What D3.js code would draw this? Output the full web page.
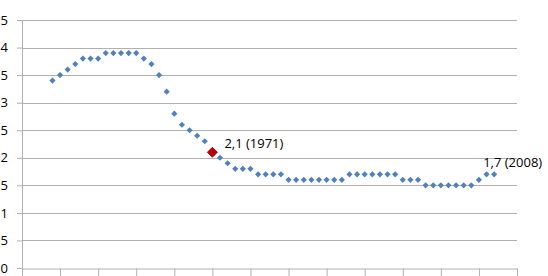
<!DOCTYPE html>
<html>
<head>
<meta charset="utf-8">
<script src="https://cdn.jsdelivr.net/npm/d3@7"></script>
<style>
  body { margin: 0; background: #fff; }
  svg { display: block; }
</style>
</head>
<body>
<div id="chart"></div>
<script>
// total fertility rate, one value per year
const years = d3.range(1950, 2009);
const values = [
  3.4, 3.5, 3.6, 3.7, 3.8, 3.8, 3.8, 3.9, 3.9, 3.9, 3.9, 3.9,
  3.8, 3.7, 3.5, 3.2, 2.8, 2.6, 2.5, 2.4, 2.3, 2.1,
  2.0, 1.9, 1.8, 1.8, 1.8, 1.7, 1.7, 1.7, 1.7,
  1.6, 1.6, 1.6, 1.6, 1.6, 1.6, 1.6, 1.6,
  1.7, 1.7, 1.7, 1.7, 1.7, 1.7, 1.7,
  1.6, 1.6, 1.6,
  1.5, 1.5, 1.5, 1.5, 1.5, 1.5, 1.5,
  1.6,
  1.7, 1.7
];
const yTicks = [0, 0.5, 1, 1.5, 2, 2.5, 3, 3.5, 4, 4.5];
const xTicks = d3.range(1946, 2012, 5);
const highlights = [
  { year: 1971, label: "2,1 (1971)", dx: 12, dy: -4 },
  { year: 2008, label: "1,7 (2008)", dx: -11, dy: -7 }
];

const width = 548, height = 276;
const margin = { top: 20, right: 31, bottom: 8, left: 22 };

const svg = d3.select("#chart").append("svg")
  .attr("width", width)
  .attr("height", height);

const x = d3.scaleLinear()
  .domain([1946, 2011])
  .range([margin.left, width - margin.right]);
const y = d3.scaleLinear()
  .domain([0, 4.5])
  .range([height - margin.bottom, margin.top]);

const fmt = d => String(d).replace(".", ",");
const grid = "#b0b0b0";

// y axis: the chart was cropped at the left, so only the last digit of each label shows
svg.append("g")
  .attr("transform", "translate(" + margin.left + ",0)")
  .call(d3.axisLeft(y).tickValues(yTicks).tickFormat(fmt)
    .tickSize(5).tickSizeOuter(0))
  .call(g => g.select(".domain").attr("stroke", grid))
  .call(g => g.selectAll(".tick line").attr("stroke", grid))
  .call(g => g.selectAll(".tick text")
    .attr("fill", "#000")
    .attr("font-family", "Open Sans, sans-serif")
    .attr("font-size", 13)
    .attr("x", -14));

svg.append("g")
  .selectAll("line")
  .data(yTicks.filter(d => d > 0))
  .join("line")
  .attr("x1", margin.left)
  .attr("x2", width - margin.right)
  .attr("y1", d => Math.round(y(d)) + 0.5)
  .attr("y2", d => Math.round(y(d)) + 0.5)
  .attr("stroke", grid);

// bottom axis with tick marks, no labels
svg.append("g")
  .attr("transform", "translate(0," + (Math.round(y(0)) + 0.5) + ")")
  .call(d3.axisBottom(x).tickValues(xTicks).tickFormat("")
    .tickSize(8).tickSizeOuter(0))
  .call(g => g.select(".domain").attr("stroke", grid))
  .call(g => g.selectAll(".tick line").attr("stroke", grid));

// square markers turned 45 degrees, like the spreadsheet diamonds
const square = d3.symbol().type(d3.symbolSquare);

svg.append("g")
  .selectAll("path")
  .data(years.map((yr, i) => ({ year: yr, value: values[i] })))
  .join("path")
  .attr("d", square.size(19))
  .attr("transform", d => "translate(" + x(d.year) + "," + y(d.value) + ") rotate(45)")
  .attr("fill", "#4f81bd");

const v71 = values[years.indexOf(1971)];
svg.append("path")
  .attr("d", square.size(50))
  .attr("transform", "translate(" + x(1971) + "," + y(v71) + ") rotate(45)")
  .attr("fill", "#c0000a")
  .attr("stroke", "#7f0000")
  .attr("stroke-width", 0.8);

svg.append("g")
  .selectAll("text")
  .data(highlights)
  .join("text")
  .attr("x", d => x(d.year) + d.dx)
  .attr("y", d => y(values[years.indexOf(d.year)]) + d.dy)
  .attr("font-family", "Open Sans, sans-serif")
  .attr("font-size", 13)
  .attr("fill", "#000")
  .text(d => d.label);
</script>
</body>
</html>
